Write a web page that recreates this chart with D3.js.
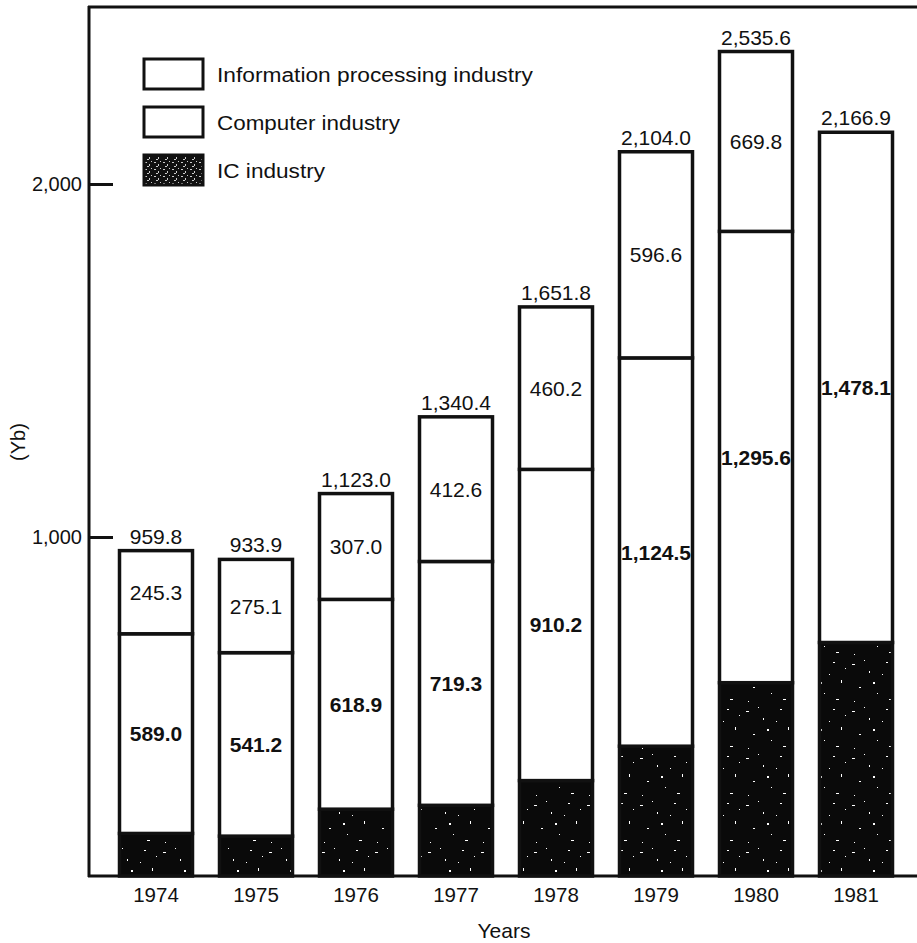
<!DOCTYPE html>
<html><head><meta charset="utf-8">
<script src="https://cdn.jsdelivr.net/npm/d3@7/dist/d3.min.js"></script>
<style>body{margin:0;background:#fff}svg{display:block}text{font-family:"Liberation Sans",Arial,Helvetica,sans-serif;fill:#111}</style>
</head><body>
<script>
const years = ["1974","1975","1976","1977","1978","1979","1980","1981"];
const icIndustry = [125.5,117.6,197.1,208.5,281.4,382.9,570.2,688.8];
const computerIndustry = [589.0,541.2,618.9,719.3,910.2,1124.5,1295.6,1478.1];
const infoProcessing = [245.3,275.1,307.0,412.6,460.2,596.6,669.8,null];
const totals = [959.8,933.9,1123.0,1340.4,1651.8,2104.0,2535.6,2166.9];
const yTicks = [1000,2000];
const legendLabels = ["Information processing industry","Computer industry","IC industry"];

const W=917,H=943;
const FONT="Liberation Sans, Arial, Helvetica, sans-serif";
const svg=d3.select("body").append("svg").attr("width",W).attr("height",H);
const defs=svg.append("defs");
const pIC=defs.append("pattern").attr("id","ic").attr("patternUnits","userSpaceOnUse").attr("width",53).attr("height",47);
pIC.append("rect").attr("width",53).attr("height",47).attr("fill","#0a0a0a");
[[4,6,3,1],[21,13,1,2],[38,4,2,1],[46,22,1,3],[11,29,2,1],[29,35,1,1],[41,41,3,1],[6,43,1,1],[25,24,2,2],[16,2,1,1],[50,10,1,1],[34,16,1,1]].forEach(d=>pIC.append("rect").attr("x",d[0]).attr("y",d[1]).attr("width",d[2]).attr("height",d[3]).attr("fill","#fff"));
const pLeg=defs.append("pattern").attr("id","icleg").attr("patternUnits","userSpaceOnUse").attr("width",9).attr("height",7);
pLeg.append("rect").attr("width",9).attr("height",7).attr("fill","#111");
[[1,1,2,1],[5,3,1,2],[3,5,2,1],[7,0,1,1]].forEach(d=>pLeg.append("rect").attr("x",d[0]).attr("y",d[1]).attr("width",d[2]).attr("height",d[3]).attr("fill","#ccc"));

const x=d3.scaleBand().domain(years).range([106,906]).paddingInner(0.27).paddingOuter(0.135);
const y=d3.scaleLinear().domain([0,1000,2000,2200,2600]).range([876,537,184,122,38]);

const fmt=d3.format(",.1f");
const FS=21;
const g=svg.append("g");
years.forEach((yr,i)=>{
  const bx=x(yr), bw=x.bandwidth();
  const ic=icIndustry[i], cp=computerIndustry[i], inf=infoProcessing[i];
  g.append("rect").attr("x",bx).attr("y",y(ic)).attr("width",bw).attr("height",y(0)-y(ic)).attr("fill","url(#ic)").attr("stroke","#111").attr("stroke-width",3.5);
  g.append("rect").attr("x",bx).attr("y",y(ic+cp)).attr("width",bw).attr("height",y(ic)-y(ic+cp)).attr("fill","#fff").attr("stroke","#111").attr("stroke-width",3.5);
  g.append("text").attr("x",bx+bw/2).attr("y",(y(ic)+y(ic+cp))/2+7.5).attr("text-anchor","middle").attr("font-size",FS).attr("font-weight","bold").text(fmt(cp));
  if(inf!==null){
    g.append("rect").attr("x",bx).attr("y",y(ic+cp+inf)).attr("width",bw).attr("height",y(ic+cp)-y(ic+cp+inf)).attr("fill","#fff").attr("stroke","#111").attr("stroke-width",3.5);
    g.append("text").attr("x",bx+bw/2).attr("y",(y(ic+cp)+y(ic+cp+inf))/2+7.5).attr("text-anchor","middle").attr("font-size",FS).text(fmt(inf));
  }
  g.append("text").attr("x",bx+bw/2).attr("y",y(totals[i])-7).attr("text-anchor","middle").attr("font-size",FS).text(fmt(totals[i]));
});

svg.append("line").attr("x1",89).attr("x2",89).attr("y1",6).attr("y2",877).attr("stroke","#111").attr("stroke-width",3);
svg.append("line").attr("x1",88).attr("x2",917).attr("y1",7).attr("y2",7).attr("stroke","#111").attr("stroke-width",3);
svg.append("line").attr("x1",88).attr("x2",917).attr("y1",y(0)).attr("y2",y(0)).attr("stroke","#111").attr("stroke-width",3);

const ya=svg.append("g").attr("transform","translate(89,0)").call(d3.axisLeft(y).tickValues(yTicks).tickFormat(d3.format(",")).tickSizeInner(-24).tickSizeOuter(0).tickPadding(7));
ya.select(".domain").remove();
ya.selectAll(".tick line").attr("stroke","#111").attr("stroke-width",3);
ya.selectAll(".tick text").attr("font-size",20).attr("font-family",FONT).attr("fill","#111");

const xa=svg.append("g").attr("transform",`translate(0,${y(0)})`).call(d3.axisBottom(x).tickSize(0).tickPadding(11));
xa.select(".domain").remove();
xa.selectAll(".tick text").attr("font-size",20.5).attr("font-family",FONT).attr("fill","#111");

svg.append("text").attr("x",504).attr("y",938).attr("text-anchor","middle").attr("font-size",21).text("Years");
svg.append("text").attr("transform","translate(25,442) rotate(-90)").attr("text-anchor","middle").attr("font-size",20).text("(Yb)");

const leg=svg.append("g");
const legFill=["#fff","#fff","url(#icleg)"];
const legLen=[316,183,108];
legendLabels.forEach((l,i)=>{
  const ly=59+i*48;
  leg.append("rect").attr("x",144).attr("y",ly).attr("width",59).attr("height",30).attr("fill",legFill[i]).attr("stroke","#111").attr("stroke-width",3);
  leg.append("text").attr("x",217).attr("y",ly+23).attr("font-size",20).attr("textLength",legLen[i]).attr("lengthAdjust","spacingAndGlyphs").text(l);
});
</script>
</body></html>
